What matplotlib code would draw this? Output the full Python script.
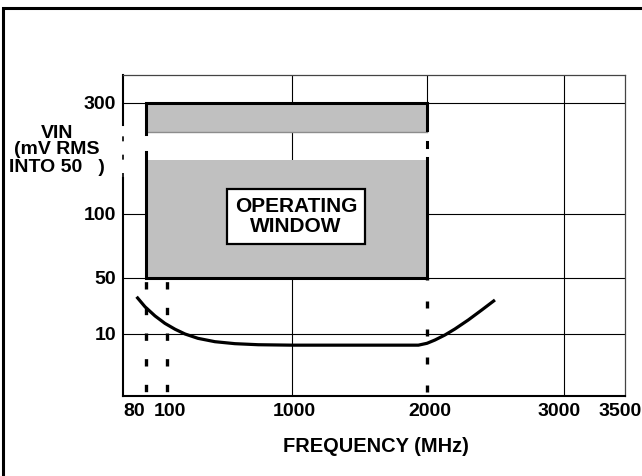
import numpy as np
import matplotlib
matplotlib.use('Agg')
import matplotlib.pyplot as plt
from matplotlib import transforms
from matplotlib.patches import Rectangle

plt.rcParams['font.family'] = ['Liberation Sans', 'DejaVu Sans']
plt.rcParams['font.weight'] = 'bold'

# input sensitivity curve (MHz, mV RMS)
freq = [71, 79, 88.6, 98, 158, 230, 323, 445, 589, 757, 998, 1936, 2000,
        2058, 2131, 2204, 2301, 2399, 2496]
vin = [36.6, 29.5, 22.9, 17.6, 13.4, 10, 9.3, 8.76, 8.44, 8.27, 8.2, 8.2,
       8.5, 9.03, 9.84, 13.6, 20, 27.1, 34.3]

# operating window (with a scale break in it)
win_f = [80, 2000]
win_v = [50, 300]
gap_v = [197, 248]

x_ticks = [80, 100, 1000, 2000, 3000, 3500]
x_labels = ['80', '100', '1000', '2000', '3000', '3500']
y_ticks = [10, 50, 100, 300]
y_labels = ['10', '50', '100', '300']

# the axes of the original are not to scale -> piecewise scales
fx = [58, 80, 100, 1000, 2000, 3000, 3500]
px = [0, 23, 44, 169, 304, 441, 502]
fy = [0, 10, 50, 100, 300, 350]
py = [0, 62, 118, 182, 293, 321]

fig = plt.figure(figsize=(6.42, 4.76), dpi=100)
ax = fig.add_axes([123/642, 80/476, 502/642, 321/476])
ax.set_xscale('function', functions=(lambda v: np.interp(v, fx, px),
                                     lambda p: np.interp(p, px, fx)))
ax.set_yscale('function', functions=(lambda v: np.interp(v, fy, py),
                                     lambda p: np.interp(p, py, fy)))
ax.set_xlim(fx[0], fx[-1])
ax.set_ylim(fy[0], fy[-1])

# grid
for y in y_ticks:
    ax.axhline(y, color='black', lw=0.8, zorder=1)
ax.axvline(1000, color='black', lw=0.8, zorder=1)
ax.axvline(3000, color='black', lw=0.8, zorder=1)
ax.plot([2000, 2000], [300, 350], color='black', lw=0.8, zorder=1)

# window
ax.fill_between(win_f, win_v[0], gap_v[0], color='#c0c0c0', lw=0, zorder=2)
ax.fill_between(win_f, gap_v[1], win_v[1], color='#c0c0c0', lw=0, zorder=2)
ax.plot(win_f, [gap_v[1], gap_v[1]], color='#8c8c8c', lw=1, zorder=2)
ax.plot([80, 80, 2000, 2000], [244, 300, 300, 251], color='black', lw=2.2,
        zorder=3, solid_joinstyle='miter')
ax.plot([80, 80, 2000, 2000], [211, 50, 50, 201], color='black', lw=2.2,
        zorder=3, solid_joinstyle='miter')
ax.plot([2000, 2000], [221, 230], color='black', lw=2.2, zorder=3)

# dashed frequency limits
ax.plot([80, 80], [50, 0], color='black', lw=2.4, ls=(6.6, (2.2, 5.5)), zorder=3)
ax.plot([100, 100], [50, 0], color='black', lw=2.4, ls=(6.6, (2.2, 5.5)), zorder=3)
ax.plot([2000, 2000], [50, 0], color='black', lw=2.4, ls=(1.5, (2.1, 6.3)), zorder=3)

ax.plot(freq, vin, color='black', lw=2.3, zorder=4, solid_capstyle='butt',
        solid_joinstyle='round')

ax.text(1030, 98, 'OPERATING\nWINDOW', ha='center', va='center', fontsize=15,
        fontweight='bold', linespacing=1.1, zorder=5,
        bbox=dict(boxstyle='square,pad=0.38', fc='white', ec='black', lw=1.6))

# spines
ax.spines['left'].set_visible(False)
yt = ax.get_yaxis_transform()
ax.plot([0, 0], [0, 165], color='black', lw=1.5, transform=yt, clip_on=False)
ax.plot([0, 0], [260, 350], color='black', lw=1.5, transform=yt, clip_on=False)
ax.plot([0, 0], [165, 260], color='black', lw=1.2, ls=(0, (3, 8)),
        transform=yt, clip_on=False)
ax.spines['bottom'].set_linewidth(1.5)
for s in ['top', 'right']:
    ax.spines[s].set_linewidth(0.9)
    ax.spines[s].set_color('#444444')

ax.set_yticks(y_ticks)
ax.set_yticklabels(y_labels)
ax.tick_params(axis='y', length=0, pad=5, labelsize=14)
ax.set_xticks([])
ax.minorticks_off()

# x labels, nudged like the original
x_nudge = [-12, 3, 2, 2.5, -5, -4.5]
for f, lab, dx in zip(x_ticks, x_labels, x_nudge):
    tr = transforms.offset_copy(ax.get_xaxis_transform(), fig=fig, x=dx, y=0,
                                units='dots')
    ax.text(f, -0.047, lab, transform=tr, ha='center', va='center',
            fontsize=14, fontweight='bold')

fig.text(375.6/642, 1 - 446/476, 'FREQUENCY (MHz)', ha='center', va='center',
         fontsize=14.4, fontweight='bold')
fig.text(57/642, 1 - 150/476, 'VIN\n(mV RMS\nINTO 50   )', ha='center',
         va='center', fontsize=14, fontweight='bold', linespacing=1.0)

# outer frame of the datasheet figure
fig.add_artist(Rectangle((3/642, -0.1), 2, 1 - 8/476 + 0.1,
                         transform=fig.transFigure, fill=False, lw=2.2,
                         ec='black'))

fig.savefig('out.png', dpi=100)
